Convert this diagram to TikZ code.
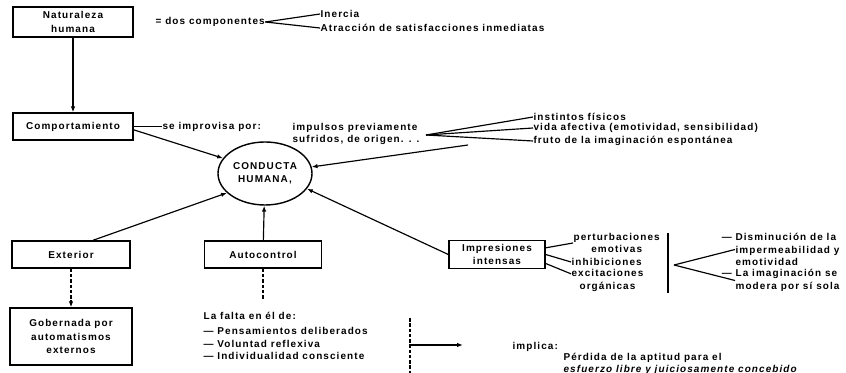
\documentclass[tikz,border=0pt]{standalone}
\usepackage{fontspec}
\setmainfont{Liberation Sans}[LetterSpace=11]
\usetikzlibrary{arrows.meta,shapes.geometric}

\tikzset{
  caja/.style={draw, line width=1.2pt, align=center, inner sep=0pt},
  texto/.style={anchor=west, align=left, inner sep=0pt},
  guion/.style={dash pattern=on 3pt off 1.5pt},
}

\begin{document}
\begin{tikzpicture}[x=0.3mm, y=-0.3mm, line width=1pt,
    >={Latex[length=5pt,width=3.8pt]},
    font=\bfseries\fontsize{8.5}{10.7}\selectfont]
  \useasboundingbox (0,0) rectangle (846,373);
  % columna izquierda
  \node[caja, minimum width=36mm, minimum height=9mm, font=\bfseries\fontsize{8.5}{12}\selectfont] (natur) at (73,22) {Naturaleza\\humana};
  \node[caja, minimum width=36mm, minimum height=8.1mm] (comport) at (73,126.5) {Comportamiento};
  \node[caja, minimum width=35.4mm, minimum height=8.1mm] (exterior) at (71,254.5) {Exterior};
  \node[caja, minimum width=36.6mm, minimum height=17.1mm, font=\bfseries\fontsize{8.5}{11.5}\selectfont] (gobern) at (71,336.5) {Gobernada por\\automatismos\\externos};
  \node[caja, minimum width=35.1mm, minimum height=8.1mm] (autoc) at (263,254.5) {Autocontrol};
  \node[caja, minimum width=28.8mm, minimum height=8.4mm] (impres) at (497,254.5) {Impresiones\\intensas};
  \node[caja, ellipse, minimum width=28.2mm, minimum height=18.9mm] (conducta) at (265,173.5) {CONDUCTA\\HUMANA,};

  % textos
  \node[texto] (dos) at (155,22) {= dos componentes};
  \node[texto] (inercia) at (320,14) {Inercia};
  \node[texto] (atrac) at (320,28) {Atracción de satisfacciones inmediatas};
  \node[texto] (improv) at (162,126.5) {se improvisa por:};
  \node[texto] (impulsos) at (292,134) {impulsos previamente\\sufridos, de origen. . .};
  \node[texto] (instintos) at (533,117) {instintos físicos};
  \node[texto] (vida) at (533,128) {vida afectiva (emotividad, sensibilidad)};
  \node[texto] (fruto) at (533,141) {fruto de la imaginación espontánea};
  \node[texto, align=center] (perturb) at (573,243) {perturbaciones\\emotivas};
  \node[texto] (inhib) at (571,262) {inhibiciones};
  \node[texto, align=center] (excit) at (571,280.5) {excitaciones\\orgánicas};
  \node[texto] (dismin) at (735,249.5) {\llap{— }Disminución de la\\impermeabilidad y\\emotividad};
  \node[texto] (imagin) at (735,280.5) {\llap{— }La imaginación se\\modera por sí sola};
  \node[texto] (falta) at (203,316) {La falta en él de:};
  \node[texto] (lista) at (203,343.5) {— Pensamientos deliberados\\— Voluntad reflexiva\\— Individualidad consciente};
  \node[texto] (implica) at (512,347) {implica:};
  \node[texto, font=\bfseries\fontsize{8.5}{9.6}\selectfont] (perdida) at (563,364) {Pérdida de la aptitud para el\\\textit{esfuerzo libre y juiciosamente concebido}};

  % puntos sueltos
  \coordinate (abanico) at (426,135);
  \coordinate (fuente) at (468,145);
  \coordinate (barra1) at (668,233);
  \coordinate (barra2) at (668,293);
  \coordinate (vertice) at (674,265);
  \coordinate (autoB) at (263,300);
  \coordinate (rayaA) at (410,318);
  \coordinate (rayaB) at (410,373);
  \coordinate (flechaA) at (410,345);
  \coordinate (flechaB) at (463,345);

  % conexiones
  \draw[->] (natur) -- (comport);
  \draw (dos.east) -- (inercia.west);
  \draw (dos.east) -- (atrac.west);
  \draw (comport.east) -- (improv.west);
  \draw (abanico) -- (instintos.west);
  \draw (abanico) -- (vida.west);
  \draw (abanico) -- (fruto.west);
  \draw[->] ([yshift=-1mm]comport.east) -- (conducta.160);
  \draw[->] (fuente) -- (conducta.8);
  \draw[->] ([xshift=6.6mm]exterior.north) -- (conducta.207);
  \draw[->] (autoc) -- (conducta);
  \draw[->] (impres.west) -- (conducta.340);
  \draw[->, guion] (exterior) -- (gobern);
  \draw[guion] (autoc) -- (autoB);
  \draw ([yshift=2mm]impres.east) -- (perturb.west);
  \draw (impres.east) -- (inhib.west);
  \draw ([yshift=-2.7mm]impres.east) -- ([yshift=2mm]excit.west);
  \draw (barra1) -- (barra2);
  \draw (vertice) -- (dismin.west);
  \draw (vertice) -- (imagin.west);
  \draw[guion] (rayaA) -- (rayaB);
  \draw[->] (flechaA) -- (flechaB);
\end{tikzpicture}
\end{document}
